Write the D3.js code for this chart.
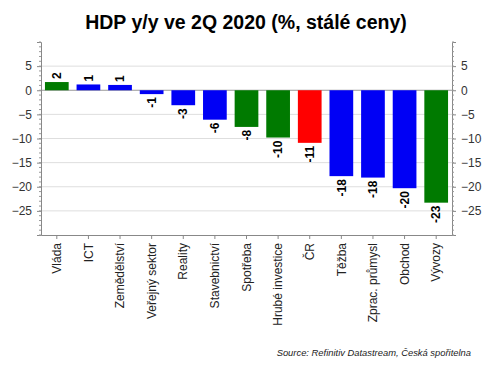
<!DOCTYPE html>
<html>
<head>
<meta charset="utf-8">
<script src="https://cdn.jsdelivr.net/npm/d3@7"></script>
<style>
  body { margin: 0; background: #fff; }
  svg { font-family: "Liberation Sans", Arial, sans-serif; }
</style>
</head>
<body>
<script>
// Chart data
var categories = ["Vláda", "ICT", "Zemědělství", "Veřejný sektor", "Reality", "Stavebnictví",
  "Spotřeba", "Hrubé investice", "ČR", "Těžba", "Zprac. průmysl", "Obchod", "Vývozy"];
var values = [1.7, 1.2, 1.1, -0.8, -3.1, -6.1, -7.6, -9.8, -10.9, -17.8, -18.1, -20.3, -23.3];
var valueLabels = ["2", "1", "1", "-1", "-3", "-6", "-8", "-10", "-11", "-18", "-18", "-20", "-23"];
var barColors = ["green", "blue", "blue", "blue", "blue", "blue",
  "green", "green", "red", "blue", "blue", "blue", "green"];
var yTicks = [5, 0, -5, -10, -15, -20, -25];
var gridTicks = [5, -5, -10, -15, -20, -25];

var colorMap = { green: "#007a00", blue: "#0000f5", red: "#ff0000" };

var svgWidth = 489;
var svgHeight = 365;
var margin = { top: 42, right: 37, bottom: 130, left: 41 };
var chartWidth = svgWidth - margin.left - margin.right;
var chartHeight = svgHeight - margin.top - margin.bottom;

var svg = d3.select("body")
  .append("svg")
  .attr("width", svgWidth)
  .attr("height", svgHeight);

// Title
svg.append("text")
  .attr("x", 246)
  .attr("y", 29)
  .attr("text-anchor", "middle")
  .style("font-size", "19.5px")
  .style("font-weight", "bold")
  .attr("fill", "#000")
  .text("HDP y/y ve 2Q 2020 (%, stálé ceny)");

var chartGroup = svg.append("g")
  .attr("transform", `translate(${margin.left}, ${margin.top})`);

// Scales
var xScale = d3.scaleBand()
  .domain(categories)
  .range([0, chartWidth])
  .paddingInner(0.25)
  .paddingOuter(0.125);

var yScale = d3.scaleLinear()
  .domain([-30, 10])
  .range([chartHeight, 0]);

// Gridlines
chartGroup.append("g")
  .selectAll("line")
  .data(gridTicks)
  .enter()
  .append("line")
  .attr("x1", 0)
  .attr("x2", chartWidth)
  .attr("y1", d => yScale(d))
  .attr("y2", d => yScale(d))
  .attr("stroke", "#dedede")
  .attr("stroke-width", 1);

// Zero line
chartGroup.append("line")
  .attr("x1", 0)
  .attr("x2", chartWidth)
  .attr("y1", yScale(0))
  .attr("y2", yScale(0))
  .attr("stroke", "#999")
  .attr("stroke-width", 1);

// Bars
chartGroup.selectAll("rect.bar")
  .data(values)
  .enter()
  .append("rect")
  .attr("class", "bar")
  .attr("x", (d, i) => xScale(categories[i]))
  .attr("width", xScale.bandwidth())
  .attr("y", d => yScale(Math.max(0, d)))
  .attr("height", d => Math.abs(yScale(d) - yScale(0)))
  .attr("fill", (d, i) => colorMap[barColors[i]]);

// Value labels (rotated)
chartGroup.selectAll("text.val")
  .data(values)
  .enter()
  .append("text")
  .attr("class", "val")
  .attr("transform", (d, i) => {
    var x = xScale(categories[i]) + xScale.bandwidth() / 2;
    var y = d >= 0 ? yScale(d) - 3 : yScale(d) + 3;
    return `translate(${x}, ${y}) rotate(-90)`;
  })
  .attr("text-anchor", d => d >= 0 ? "start" : "end")
  .attr("dy", "0.35em")
  .style("font-size", "12px")
  .style("font-weight", "bold")
  .attr("fill", "#000")
  .text((d, i) => valueLabels[i]);

// Axes
var leftAxis = d3.axisLeft(yScale).tickValues(yTicks).tickSize(4).tickPadding(5);
var rightAxis = d3.axisRight(yScale).tickValues(yTicks).tickSize(4).tickPadding(5);
var minorTicks = d3.range(-30, 11, 1);

var leftG = chartGroup.append("g").call(leftAxis);
var rightG = chartGroup.append("g")
  .attr("transform", `translate(${chartWidth}, 0)`)
  .call(rightAxis);

[leftG, rightG].forEach(function(g, k) {
  g.select(".domain").attr("stroke", "#888");
  g.selectAll(".tick line").attr("stroke", "#888");
  g.selectAll(".tick text")
    .style("font-size", "12px")
    .attr("fill", "#333")
    .style("font-family", "'Liberation Sans', Arial, sans-serif");
  g.selectAll("line.minor")
    .data(minorTicks)
    .enter()
    .append("line")
    .attr("class", "minor")
    .attr("x1", 0)
    .attr("x2", k === 0 ? -2 : 2)
    .attr("y1", d => yScale(d))
    .attr("y2", d => yScale(d))
    .attr("stroke", "#999");
});

var bottomAxis = d3.axisBottom(xScale).tickSize(4).tickPadding(4).tickSizeOuter(0);
var bottomG = chartGroup.append("g")
  .attr("transform", `translate(0, ${chartHeight})`)
  .call(bottomAxis);

bottomG.select(".domain").attr("stroke", "#888");
bottomG.selectAll(".tick line").attr("stroke", "#888");
bottomG.selectAll(".tick text")
  .attr("transform", "rotate(-90)")
  .attr("text-anchor", "end")
  .attr("x", -8)
  .attr("y", 0)
  .attr("dy", "0.35em")
  .style("font-size", "12px")
  .attr("fill", "#222")
  .style("font-family", "'Liberation Sans', Arial, sans-serif");

// Source note
svg.append("text")
  .attr("x", 471)
  .attr("y", 356)
  .attr("text-anchor", "end")
  .style("font-size", "9.4px")
  .style("font-style", "italic")
  .attr("fill", "#222")
  .text("Source: Refinitiv Datastream, Česká spořitelna");
</script>
</body>
</html>
